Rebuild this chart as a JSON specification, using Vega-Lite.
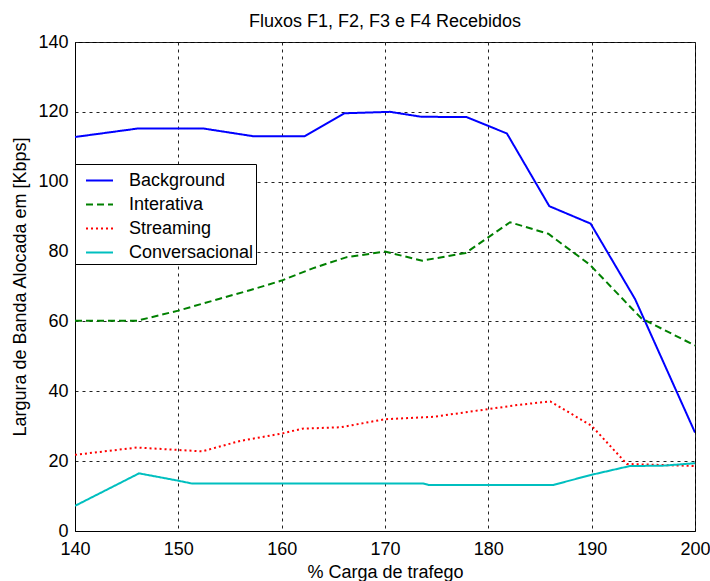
{
  "$schema": "https://vega.github.io/schema/vega-lite/v6.json",
  "width": 620,
  "height": 489,
  "autosize": "none",
  "padding": {"left": 75, "top": 42, "right": 15, "bottom": 50},
  "background": "white",
  "config": {
    "font": "Liberation Sans",
    "view": {"stroke": "black", "strokeWidth": 1},
    "axis": {
      "labelFont": "Liberation Sans",
      "titleFont": "Liberation Sans",
      "labelFontSize": 18,
      "titleFontSize": 18,
      "titleFontWeight": "normal",
      "labelColor": "black",
      "titleColor": "black",
      "domainColor": "black",
      "gridColor": "#222222",
      "gridDash": [3, 4],
      "gridOpacity": 1,
      "gridWidth": 1,
      "ticks": false,
      "labelFlush": false
    }
  },
  "title": {
    "text": "Fluxos F1, F2, F3 e F4 Recebidos",
    "fontSize": 18,
    "fontWeight": "normal",
    "font": "Liberation Sans",
    "color": "black",
    "anchor": "middle",
    "offset": 2
  },
  "data": {
    "values": [
      {"x": 140, "y": 112.8, "s": "Background"},
      {"x": 146, "y": 115.2, "s": "Background"},
      {"x": 152.5, "y": 115.2, "s": "Background"},
      {"x": 157.3, "y": 113, "s": "Background"},
      {"x": 162.2, "y": 113, "s": "Background"},
      {"x": 166.1, "y": 119.6, "s": "Background"},
      {"x": 170.5, "y": 120, "s": "Background"},
      {"x": 173.5, "y": 118.6, "s": "Background"},
      {"x": 177.9, "y": 118.5, "s": "Background"},
      {"x": 181.8, "y": 113.8, "s": "Background"},
      {"x": 185.9, "y": 93, "s": "Background"},
      {"x": 189.9, "y": 88, "s": "Background"},
      {"x": 194.2, "y": 66.4, "s": "Background"},
      {"x": 200, "y": 28.2, "s": "Background"},
      {"x": 140, "y": 60.2, "s": "Interativa"},
      {"x": 146, "y": 60.2, "s": "Interativa"},
      {"x": 150, "y": 63.1, "s": "Interativa"},
      {"x": 154, "y": 66.5, "s": "Interativa"},
      {"x": 157, "y": 69, "s": "Interativa"},
      {"x": 160, "y": 71.7, "s": "Interativa"},
      {"x": 163, "y": 75.2, "s": "Interativa"},
      {"x": 166.3, "y": 78.4, "s": "Interativa"},
      {"x": 170, "y": 80, "s": "Interativa"},
      {"x": 173.6, "y": 77.4, "s": "Interativa"},
      {"x": 177.8, "y": 79.6, "s": "Interativa"},
      {"x": 182.1, "y": 88.4, "s": "Interativa"},
      {"x": 185.8, "y": 85.1, "s": "Interativa"},
      {"x": 189.8, "y": 76.3, "s": "Interativa"},
      {"x": 194.8, "y": 60.9, "s": "Interativa"},
      {"x": 200, "y": 53.1, "s": "Interativa"},
      {"x": 140, "y": 21.8, "s": "Streaming"},
      {"x": 146, "y": 23.9, "s": "Streaming"},
      {"x": 150, "y": 23.2, "s": "Streaming"},
      {"x": 152.3, "y": 22.8, "s": "Streaming"},
      {"x": 156, "y": 25.8, "s": "Streaming"},
      {"x": 160, "y": 27.9, "s": "Streaming"},
      {"x": 162, "y": 29.3, "s": "Streaming"},
      {"x": 165.7, "y": 29.7, "s": "Streaming"},
      {"x": 170, "y": 32, "s": "Streaming"},
      {"x": 174.7, "y": 32.7, "s": "Streaming"},
      {"x": 180, "y": 34.9, "s": "Streaming"},
      {"x": 182.9, "y": 36.1, "s": "Streaming"},
      {"x": 186, "y": 37.1, "s": "Streaming"},
      {"x": 190, "y": 30.1, "s": "Streaming"},
      {"x": 193.4, "y": 19.2, "s": "Streaming"},
      {"x": 200, "y": 18.6, "s": "Streaming"},
      {"x": 140, "y": 7.2, "s": "Conversacional"},
      {"x": 146.2, "y": 16.5, "s": "Conversacional"},
      {"x": 150, "y": 14.4, "s": "Conversacional"},
      {"x": 151.3, "y": 13.6, "s": "Conversacional"},
      {"x": 173.7, "y": 13.6, "s": "Conversacional"},
      {"x": 174.2, "y": 13.2, "s": "Conversacional"},
      {"x": 186.3, "y": 13.2, "s": "Conversacional"},
      {"x": 190, "y": 16.1, "s": "Conversacional"},
      {"x": 193.7, "y": 18.6, "s": "Conversacional"},
      {"x": 196.9, "y": 18.7, "s": "Conversacional"},
      {"x": 200, "y": 19.4, "s": "Conversacional"}
    ]
  },
  "mark": {"type": "line", "strokeWidth": 2, "clip": true},
  "encoding": {
    "x": {
      "field": "x",
      "type": "quantitative",
      "scale": {"domain": [140, 200], "nice": false, "zero": false},
      "axis": {"values": [140, 150, 160, 170, 180, 190, 200], "title": "% Carga de trafego", "labelPadding": 9, "titlePadding": 5}
    },
    "y": {
      "field": "y",
      "type": "quantitative",
      "scale": {"domain": [0, 140], "nice": false},
      "axis": {"values": [0, 20, 40, 60, 80, 100, 120, 140], "title": "Largura de Banda Alocada em [Kbps]", "labelPadding": 7, "titlePadding": 8}
    },
    "color": {
      "field": "s",
      "type": "nominal",
      "scale": {
        "domain": ["Background", "Interativa", "Streaming", "Conversacional"],
        "range": ["#0000ff", "#008000", "#ff0000", "#00bfbf"]
      },
      "legend": {
        "title": null,
        "orient": "none",
        "legendX": 0,
        "legendY": 122,
        "symbolType": "stroke",
        "symbolSize": 729,
        "symbolStrokeWidth": 2,
        "symbolOffset": 8,
        "labelFontSize": 18,
        "labelFont": "Liberation Sans",
        "labelColor": "black",
        "labelOffset": 15,
        "rowPadding": -4,
        "padding": 2,
        "strokeColor": "black",
        "fillColor": "white",
        "cornerRadius": 0
      }
    },
    "strokeDash": {
      "field": "s",
      "type": "nominal",
      "scale": {
        "domain": ["Background", "Interativa", "Streaming", "Conversacional"],
        "range": [[1, 0], [7, 4], [2, 3], [1, 0]]
      },
      "legend": null
    }
  }
}
